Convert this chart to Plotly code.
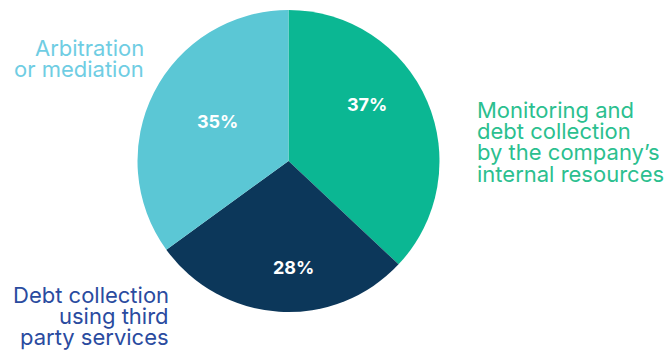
import plotly.graph_objects as go

labels = ["Monitoring and debt collection by the company’s internal resources",
          "Debt collection using third party services",
          "Arbitration or mediation"]
values = [37, 28, 35]
slice_colors = ["#0bb793", "#0c375a", "#5bc7d5"]
label_lines = [["Monitoring and", "debt collection", "by the company’s", "internal resources"],
               ["Debt collection", "using third", "party services"],
               ["Arbitration", "or mediation"]]
label_colors = ["#2bbf8f", "#2a4b9f", "#6fcde3"]

W, H = 670, 350
cx, cy, r = 288.5, 161, 151

fig = go.Figure(go.Pie(
    labels=labels, values=values, sort=False, direction="clockwise", rotation=0,
    marker=dict(colors=slice_colors, line=dict(width=0)),
    textinfo="none",
    domain=dict(x=[(cx - r) / W, (cx + r) / W], y=[1 - (cy + r) / H, 1 - (cy - r) / H]),
    showlegend=False, hoverinfo="label+percent",
))

total = sum(values)
pct_pos = [(367, 104), (293, 267), (218, 122)]
for v, (x, y) in zip(values, pct_pos):
    fig.add_annotation(x=x / W, y=1 - y / H, xref="paper", yref="paper",
                       text=f"{round(100 * v / total)}%", showarrow=False,
                       xanchor="center", yanchor="middle",
                       font=dict(color="white", size=18, family="Inter", weight=700))

label_pos = [(476, 110, "left"), (170, 295, "right"), (145, 48, "right")]
line_gap = 21.2
for lines, c, (x, y0, al) in zip(label_lines, label_colors, label_pos):
    for i, t in enumerate(lines):
        fig.add_annotation(x=x / W, y=1 - (y0 + i * line_gap) / H, xref="paper", yref="paper",
                           text=t, showarrow=False, xanchor=al, yanchor="middle", align=al,
                           borderpad=0, font=dict(color=c, size=22, family="Inter"))

fig.update_layout(width=W, height=H, margin=dict(l=0, r=0, t=0, b=0),
                  paper_bgcolor="white", plot_bgcolor="white")
fig.write_html("out.html")
